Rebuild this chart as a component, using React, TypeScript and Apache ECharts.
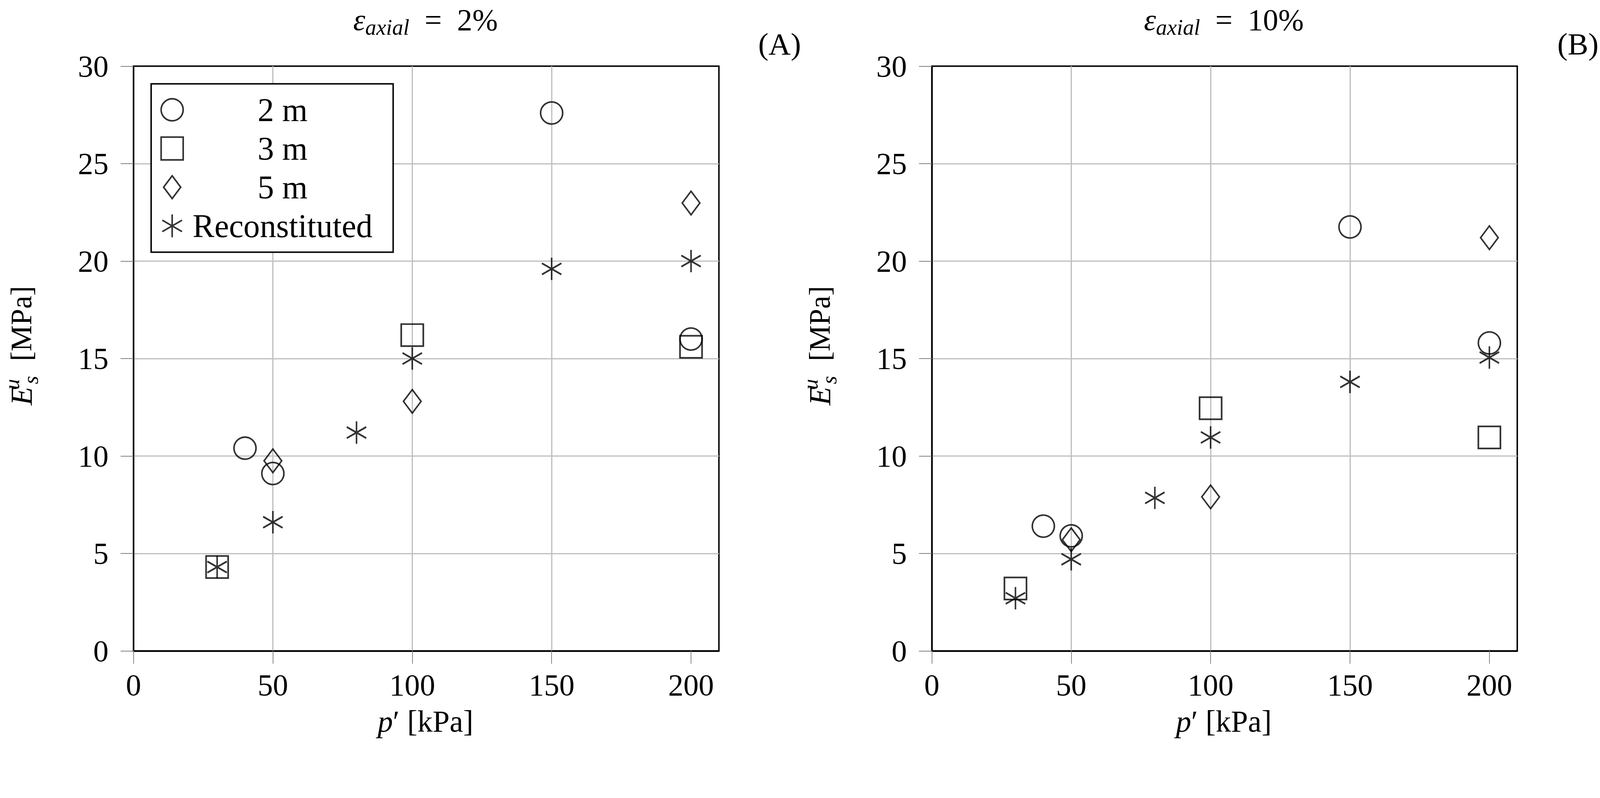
import React, { useEffect, useRef } from "react";
import * as echarts from "echarts";

// ---- data (p' [kPa], Es^u [MPa]) ----
const xTicks = [0, 50, 100, 150, 200];
const yTicks = [0, 5, 10, 15, 20, 25, 30];

// Panel A: axial strain 2%
const a2m = [[40, 10.4], [50, 9.1], [150, 27.6], [200, 16.0]];
const a3m = [[30, 4.3], [100, 16.2], [200, 15.6]];
const a5m = [[50, 9.75], [100, 12.8], [200, 22.98]];
const aRec = [[30, 4.3], [50, 6.6], [80, 11.2], [100, 15.0], [150, 19.6], [200, 20.0]];

// Panel B: axial strain 10%
const b2m = [[40, 6.4], [50, 5.9], [150, 21.75], [200, 15.8]];
const b3m = [[30, 3.2], [100, 12.45], [200, 10.95]];
const b5m = [[50, 5.7], [100, 7.9], [200, 21.2]];
const bRec = [[30, 2.7], [50, 4.7], [80, 7.85], [100, 10.95], [150, 13.8], [200, 15.05]];

const seriesNames = ["2 m", "3 m", "5 m", "Reconstituted"];
const panelTitles = ["2%", "10%"];
const panelTags = ["(A)", "(B)"];

const FONT = "Liberation Serif";
const ASTERISK = "path://M0,-1L0,1M-0.866,-0.5L0.866,0.5M-0.866,0.5L0.866,-0.5";
const DIAMOND = "path://M0,-1L0.75,0L0,1L-0.75,0Z";

// design frame (reference pixels)
const REF_W = 4351;
const REF_H = 2043;
const GRID_LEFT = [363, 2534];
const GRID_TOP = 180;
const GRID_W = 1592;
const GRID_H = 1590;
const DX = GRID_LEFT[1] - GRID_LEFT[0];

function buildOption(s: number) {
  const k = (v: number) => v * s;

  const scatter = (name: string, data: number[][], gi: number, symbol: string, size: number[], bw: number) => ({
    type: "scatter",
    name,
    data,
    xAxisIndex: gi,
    yAxisIndex: gi,
    symbol,
    symbolSize: size.map(k),
    itemStyle: { color: "rgba(0,0,0,0)", borderColor: "#000", borderWidth: k(bw) },
    emphasis: { disabled: true },
    z: 3,
  });

  const grids = GRID_LEFT.map((l) => ({
    left: k(l),
    top: k(GRID_TOP),
    width: k(GRID_W),
    height: k(GRID_H),
    show: true,
    borderColor: "#000",
    borderWidth: k(4),
    backgroundColor: "rgba(0,0,0,0)",
    containLabel: false,
    outerBoundsMode: "none",
  }));
  const axisCommon = (ticks: number[], margin: number) => ({
    axisLine: { show: true, onZero: false, lineStyle: { color: "#000", width: k(4) } },
    axisTick: { show: true, length: k(35), customValues: ticks, lineStyle: { color: "#808080", width: k(2) } },
    axisLabel: { customValues: ticks, margin: k(margin), fontSize: k(83), fontFamily: FONT, color: "#000" },
    splitLine: { show: true, showMinLine: false, showMaxLine: false, lineStyle: { color: "#bfbfbf", width: k(3.3) } },
  });
  const xAxes = [0, 1].map((i) => ({
    type: "value",
    gridIndex: i,
    min: 0,
    max: 210,
    interval: 50,
    ...axisCommon(xTicks, 51),
  }));
  const yAxes = [0, 1].map((i) => ({
    type: "value",
    gridIndex: i,
    min: 0,
    max: 30,
    interval: 5,
    ...axisCommon(yTicks, 68),
  }));

  const series = [
    scatter(seriesNames[0], a2m, 0, "circle", [60, 60], 4.3),
    scatter(seriesNames[1], a3m, 0, "rect", [60, 60], 4.5),
    scatter(seriesNames[2], a5m, 0, DIAMOND, [48, 64], 4.3),
    scatter(seriesNames[3], aRec, 0, ASTERISK, [53, 61], 4.5),
    scatter(seriesNames[0], b2m, 1, "circle", [60, 60], 4.3),
    scatter(seriesNames[1], b3m, 1, "rect", [60, 60], 4.5),
    scatter(seriesNames[2], b5m, 1, DIAMOND, [48, 64], 4.3),
    scatter(seriesNames[3], bRec, 1, ASTERISK, [53, 61], 4.5),
  ];

  const graphics: any[] = [];
  [0, 1].forEach((i) => {
    const off = i * DX;
    const cx = GRID_LEFT[i] + GRID_W / 2 - 2;
    graphics.push({
      type: "text",
      x: k(cx),
      y: k(54),
      style: {
        text: `{e|ε}{s|axial}{n|\u2002=\u2002${panelTitles[i]}}`,
        align: "center",
        verticalAlign: "middle",
        fill: "#000",
        rich: {
          e: { fontSize: k(83), fontStyle: "italic", fontFamily: FONT, lineHeight: k(100), verticalAlign: "middle", fill: "#000" },
          s: { fontSize: k(60), fontStyle: "italic", fontFamily: FONT, lineHeight: k(50), verticalAlign: "bottom", fill: "#000" },
          n: { fontSize: k(83), fontFamily: FONT, lineHeight: k(100), verticalAlign: "middle", fill: "#000" },
        },
      },
    });
    graphics.push({
      type: "text",
      x: k(2120 + off),
      y: k(120),
      style: { text: panelTags[i], fontSize: k(84), fontFamily: FONT, fill: "#000", align: "center", verticalAlign: "middle" },
    });
    graphics.push({
      type: "text",
      x: k(cx),
      y: k(1961),
      style: {
        text: "{p|p}{n|\u2032 [kPa]}",
        align: "center",
        verticalAlign: "middle",
        fill: "#000",
        rich: {
          p: { fontSize: k(83), fontStyle: "italic", fontFamily: FONT, lineHeight: k(100), verticalAlign: "middle", fill: "#000" },
          n: { fontSize: k(83), fontFamily: FONT, lineHeight: k(100), verticalAlign: "middle", fill: "#000" },
        },
      },
    });
    graphics.push({
      type: "text",
      x: k(58 + off),
      y: k(940),
      rotation: Math.PI / 2,
      style: {
        text: "{E|E}{g|}{u|u}{s|s}{n|\u2002[MPa]}",
        align: "center",
        verticalAlign: "middle",
        fill: "#000",
        rich: {
          E: { fontSize: k(83), fontStyle: "italic", fontFamily: FONT, lineHeight: k(110), verticalAlign: "middle", fill: "#000" },
          g: { width: k(6), lineHeight: k(110) },
          u: { fontSize: k(58), fontStyle: "italic", fontFamily: FONT, lineHeight: k(60), verticalAlign: "top", width: k(1), fill: "#000" },
          s: { fontSize: k(58), fontStyle: "italic", fontFamily: FONT, lineHeight: k(52), verticalAlign: "bottom", fill: "#000" },
          n: { fontSize: k(80), fontFamily: FONT, lineHeight: k(110), verticalAlign: "middle", fill: "#000" },
        },
      },
    });
  });

  return {
    animation: false,
    backgroundColor: "#fff",
    grid: grids,
    xAxis: xAxes,
    yAxis: yAxes,
    series,
    legend: {
      show: true,
      orient: "vertical",
      left: k(411),
      top: k(228),
      padding: [26, 56, 27, 25].map(k),
      itemWidth: k(60),
      itemHeight: k(62),
      itemGap: k(16),
      borderColor: "#000",
      borderWidth: k(4),
      borderRadius: 0,
      backgroundColor: "#fff",
      selectedMode: false,
      itemStyle: { borderWidth: k(4.3) },
      data: [
        { name: seriesNames[0], icon: "circle" },
        { name: seriesNames[1], icon: "rect" },
        { name: seriesNames[2], icon: DIAMOND },
        { name: seriesNames[3], icon: ASTERISK },
      ],
      formatter: (name: string) => `{c|${name}}`,
      textStyle: {
        color: "#000",
        fontFamily: FONT,
        fontSize: k(89),
        rich: {
          c: { width: k(530), align: "center", fontSize: k(89), fontFamily: FONT, color: "#000" },
        },
      },
    },
    graphic: { elements: graphics },
  };
}

export default function App() {
  const ref = useRef<HTMLDivElement>(null);
  useEffect(() => {
    const el = ref.current;
    if (!el) return;
    const vw = window.innerWidth || REF_W;
    const vh = window.innerHeight || REF_H;
    const s = Math.min(vw / REF_W, vh / REF_H);
    el.style.width = `${REF_W * s}px`;
    el.style.height = `${REF_H * s}px`;
    const chart = echarts.init(el, undefined, { renderer: "svg" });
    chart.setOption(buildOption(s) as any);
    return () => chart.dispose();
  }, []);
  return (
    <div
      ref={ref}
      style={{ position: "fixed", left: 0, top: 0, width: 400, height: 200, background: "#fff", overflow: "hidden" }}
    />
  );
}
